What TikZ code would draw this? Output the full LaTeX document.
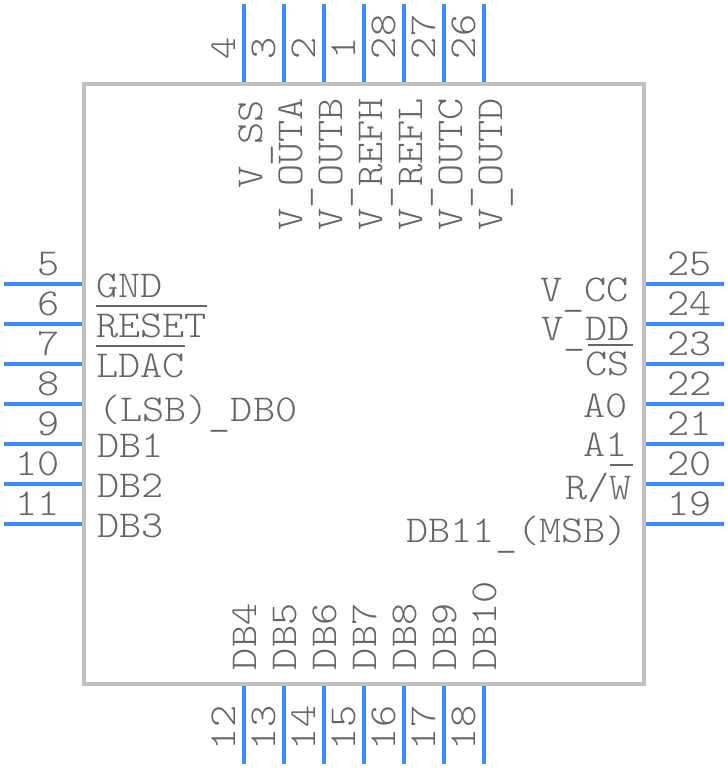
\documentclass[tikz,border=0pt]{standalone}
\usepackage{graphicx}
\definecolor{pinblue}{HTML}{4488FF}
\definecolor{bodygray}{HTML}{C0C0C0}
\definecolor{textgray}{HTML}{666666}
\newcommand{\lab}[1]{\scalebox{1.11}[1]{#1}}
\newcommand{\us}{\raisebox{-3pt}{\_}}
\tikzset{
  pinline/.style={draw=pinblue,line width=3pt},
  chipbody/.style={draw=bodygray,line width=3pt,fill=white,rectangle,minimum width=420pt,minimum height=450pt,inner sep=0pt},
  txt/.style={text=textgray,inner sep=0pt,outer sep=0pt,font=\fontsize{28.5}{28.5}\selectfont\ttfamily\fontseries{l}\selectfont},
  lbl/.style={txt,anchor=base west},
  lblr/.style={txt,anchor=base east},
  barline/.style={draw=textgray,line width=1.5pt},
}
\begin{document}
\begin{tikzpicture}[x=0.75pt,y=-0.75pt]
\useasboundingbox (0,0) rectangle (728,768);
\node[chipbody] (chip) at (364,384) {};
% left pins
\foreach \n/\yy in {5/284,6/324,7/364,8/404,9/444,10/484,11/524}{
  \coordinate (o\n) at (4,\yy); \coordinate (i\n) at (82,\yy);
  \draw[pinline] (o\n) -- (i\n);
  \pgfmathsetmacro{\by}{\yy-9}
  \node[lblr] (num\n) at (60,\by) {\lab{\n}};
}
% right pins
\foreach \n/\yy in {25/284,24/324,23/364,22/404,21/444,20/484,19/524}{
  \coordinate (o\n) at (724,\yy); \coordinate (i\n) at (646,\yy);
  \draw[pinline] (o\n) -- (i\n);
  \pgfmathsetmacro{\by}{\yy-9}
  \node[lbl] (num\n) at (667,\by) {\lab{\n}};
}
% top pins
\foreach \n/\xx in {4/244,3/284,2/324,1/364,28/404,27/444,26/484}{
  \coordinate (o\n) at (\xx,4); \coordinate (i\n) at (\xx,82);
  \draw[pinline] (o\n) -- (i\n);
  \pgfmathsetmacro{\bx}{\xx-9}
  \node[lbl,rotate=90] (num\n) at (\bx,59) {\lab{\n}};
}
% bottom pins
\foreach \n/\xx in {12/244,13/284,14/324,15/364,16/404,17/444,18/484}{
  \coordinate (o\n) at (\xx,764); \coordinate (i\n) at (\xx,686);
  \draw[pinline] (o\n) -- (i\n);
  \pgfmathsetmacro{\bx}{\xx-9}
  \node[lbl,rotate=90] (num\n) at (\bx,750) {\lab{\n}};
}
% left labels
\node[lbl] (gnd) at (96,297) {\lab{GND}};
\node[lbl] (reset) at (96,337) {\lab{RESET}};
\node[lbl] (ldac) at (96,377) {\lab{LDAC}};
\node[lbl] (db0) at (98,421) {\lab{(LSB)\us DB0}};
\node[lbl] (db1) at (97,457) {\lab{DB1}};
\node[lbl] (db2) at (97,497) {\lab{DB2}};
\node[lbl] (db3) at (97,537) {\lab{DB3}};
\draw[barline] (96,306) -- (207,306);
\draw[barline] (96,346) -- (185,346);
% right labels
\node[lblr] (vcc) at (629,301) {\lab{V\us CC}};
\node[lblr] (vdd) at (630,340) {\lab{V\us DD}};
\node[lblr] (cs) at (630,375) {\lab{CS}};
\node[lblr] (a0) at (628,417) {\lab{A0}};
\node[lblr] (a1) at (628,456) {\lab{A1}};
\node[lblr] (rw) at (632,499) {\lab{R/W}};
\node[lblr] (db11) at (628,542) {\lab{DB11\us (MSB)}};
\draw[barline] (588,345) -- (633,345);
\draw[barline] (610,465) -- (633,465);
% top labels
\node[lblr,rotate=90] (vss) at (262,100) {\lab{V\us SS}};
\node[lblr,rotate=90] (vouta) at (302,98) {\lab{V\us OUTA}};
\node[lblr,rotate=90] (voutb) at (342,98) {\lab{V\us OUTB}};
\node[lblr,rotate=90] (vrefh) at (382,98) {\lab{V\us REFH}};
\node[lblr,rotate=90] (vrefl) at (422,98) {\lab{V\us REFL}};
\node[lblr,rotate=90] (voutc) at (462,98) {\lab{V\us OUTC}};
\node[lblr,rotate=90] (voutd) at (502,98) {\lab{V\us OUTD}};
% bottom labels
\foreach \t/\xx in {DB4/256,DB5/296,DB6/336,DB7/376,DB8/416,DB9/456,DB10/496}{
  \node[lbl,rotate=90] (n\t) at (\xx,670) {\lab{\t}};
}
\end{tikzpicture}
\end{document}
